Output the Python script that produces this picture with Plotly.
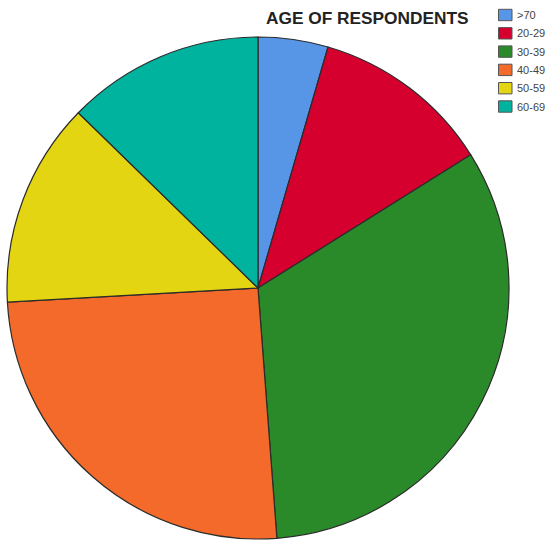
import plotly.graph_objects as go

labels = [">70", "20-29", "30-39", "40-49", "50-59", "60-69"]
values = [4.5, 11.6, 32.7, 25.3, 13.2, 12.7]
colors = ["#5795E6", "#D6002F", "#2A8A2A", "#F36A2A", "#E3D512", "#00B39F"]
title_text = "AGE OF RESPONDENTS"

W, H = 551, 543
cx, cy, r = 258, 288, 251

fig = go.Figure(go.Pie(
    labels=labels, values=values, sort=False, direction="clockwise", rotation=0,
    marker=dict(colors=colors, line=dict(color="#2b2b2b", width=1.2)),
    textinfo="none", hoverinfo="label+percent", showlegend=False,
    domain=dict(x=[(cx - r) / W, (cx + r) / W], y=[1 - (cy + r) / H, 1 - (cy - r) / H]),
))

shapes, annotations = [], []
annotations.append(dict(text="<b>" + title_text + "</b>", x=367.5 / W, y=1 - 18 / H,
                        xref="paper", yref="paper", xanchor="center", yanchor="middle",
                        showarrow=False, font=dict(family="Liberation Sans, Arial", size=17.3, color="#222")))
y0, step = 15, 18.3
for i, (lab, col) in enumerate(zip(labels, colors)):
    yc = y0 + i * step
    shapes.append(dict(type="rect", xref="paper", yref="paper",
                       x0=498.5 / W, x1=512 / W, y0=1 - (yc + 5.7) / H, y1=1 - (yc - 5.7) / H,
                       fillcolor=col, line=dict(color="#555", width=1)))
    annotations.append(dict(text=lab, x=514.5 / W, y=1 - yc / H, xref="paper", yref="paper",
                            xanchor="left", yanchor="middle", showarrow=False,
                            font=dict(family="Liberation Sans, Arial", size=11, color="#444")))

fig.update_layout(width=W, height=H, margin=dict(l=0, r=0, t=0, b=0),
                  paper_bgcolor="white", plot_bgcolor="white",
                  shapes=shapes, annotations=annotations)
fig.write_html("out.html")
